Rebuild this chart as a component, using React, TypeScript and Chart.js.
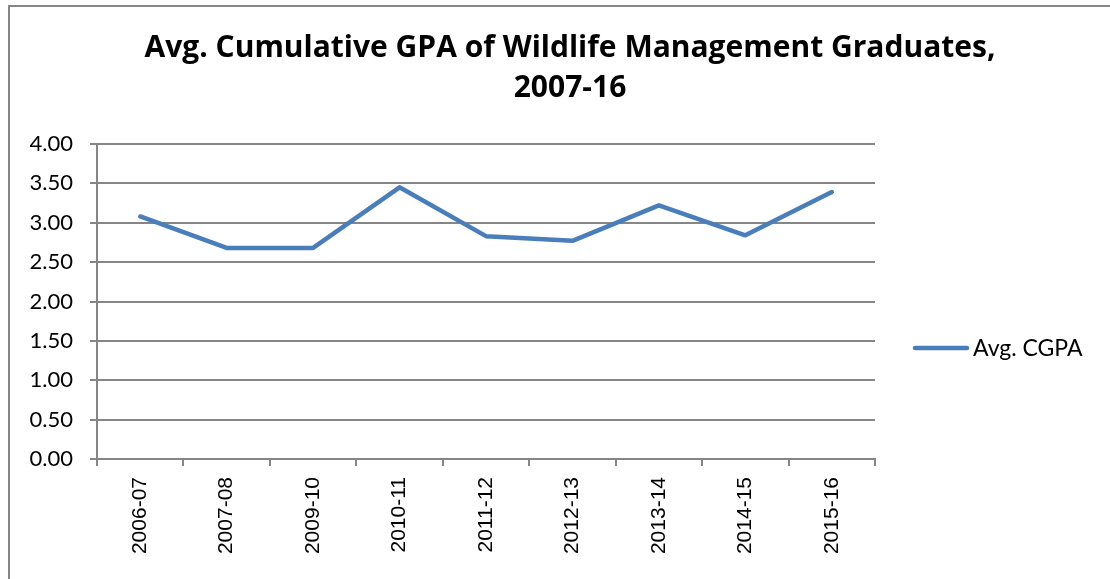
import React, { useEffect, useRef } from 'react';
import { Chart, registerables } from 'chart.js';

Chart.register(...registerables);

const categories = ['2006-07', '2007-08', '2009-10', '2010-11', '2011-12', '2012-13', '2013-14', '2014-15', '2015-16'];
const avgCgpa = [3.08, 2.68, 2.68, 3.45, 2.83, 2.77, 3.22, 2.84, 3.39];
const seriesLabel = 'Avg. CGPA';
const titleLines = ['Avg. Cumulative GPA of Wildlife Management Graduates,', '2007-16'];
const yMin = 0;
const yMax = 4;
const yStep = 0.5;

const LINE_COLOR = '#4A7EBB';
const GRID_COLOR = '#868686';

const sideLegend = {
  id: 'sideLegend',
  afterDraw(chart: any) {
    const { ctx, chartArea } = chart;
    const ds = chart.data.datasets[0];
    const x0 = chartArea.right + 38;
    const y = chartArea.top + (chartArea.bottom - chartArea.top) * 0.648;
    ctx.save();
    ctx.strokeStyle = ds.borderColor;
    ctx.lineWidth = ds.borderWidth;
    ctx.lineCap = 'round';
    ctx.beginPath();
    ctx.moveTo(x0 + 2, y);
    ctx.lineTo(x0 + 54, y);
    ctx.stroke();
    ctx.fillStyle = '#000';
    ctx.font = '23px Lato';
    ctx.textBaseline = 'middle';
    ctx.textAlign = 'left';
    ctx.fillText(ds.label, x0 + 60, y);
    ctx.restore();
  },
};

export default function App() {
  const ref = useRef<HTMLCanvasElement | null>(null);

  useEffect(() => {
    if (!ref.current) return;
    const chart = new Chart(ref.current, {
      type: 'line',
      data: {
        labels: categories,
        datasets: [
          {
            label: seriesLabel,
            data: avgCgpa,
            borderColor: LINE_COLOR,
            backgroundColor: LINE_COLOR,
            borderWidth: 4.5,
            pointRadius: 0,
            borderJoinStyle: 'round',
            borderCapStyle: 'round',
            tension: 0,
          },
        ],
      },
      options: {
        responsive: false,
        animation: false,
        layout: { padding: { left: 30, right: 0, top: 0, bottom: 0 } },
        plugins: {
          legend: { display: false },
          tooltip: { enabled: false },
          title: {
            display: true,
            text: titleLines,
            color: '#000',
            font: { family: 'Open Sans', size: 30, weight: 'bold', lineHeight: 40 / 30 },
            padding: { top: 28, bottom: 36 },
          },
        },
        scales: {
          x: {
            offset: true,
            grid: {
              offset: true,
              drawOnChartArea: false,
              drawTicks: true,
              tickLength: 7,
              color: GRID_COLOR,
              lineWidth: 2,
            },
            border: { display: true, color: GRID_COLOR, width: 2 },
            ticks: {
              minRotation: 90,
              maxRotation: 90,
              padding: 11,
              color: '#000',
              font: { family: 'Liberation Sans', size: 21 },
            },
            afterFit(scale: any) {
              scale.height = 120;
            },
          },
          y: {
            min: yMin,
            max: yMax,
            ticks: {
              stepSize: yStep,
              padding: 17,
              color: '#000',
              font: { family: 'Lato', size: 22 },
              callback: (v: any) => Number(v).toFixed(2),
            },
            grid: {
              color: GRID_COLOR,
              lineWidth: 2,
              tickLength: 7,
              drawTicks: true,
            },
            border: { display: true, color: GRID_COLOR, width: 2 },
            afterFit(scale: any) {
              scale.width = 67;
            },
          },
          legendSpace: {
            type: 'linear',
            position: 'right',
            display: true,
            grid: { display: false, drawOnChartArea: false },
            border: { display: false },
            ticks: { display: false },
            afterFit(scale: any) {
              scale.width = 235;
            },
          },
        },
      },
      plugins: [sideLegend],
    });
    return () => chart.destroy();
  }, []);

  return (
    <div
      style={{
        position: 'fixed',
        left: 0,
        top: 0,
        width: 1110,
        height: 579,
        overflow: 'hidden',
        background: '#fff',
      }}
    >
      <div
        style={{
          position: 'absolute',
          left: 8,
          top: 5,
          width: 1200,
          height: 700,
          border: '2px solid ' + GRID_COLOR,
          boxSizing: 'border-box',
        }}
      />
      <canvas
        ref={ref}
        width={1110}
        height={579}
        style={{ position: 'absolute', left: 0, top: 0, width: 1110, height: 579 }}
      />
    </div>
  );
}
